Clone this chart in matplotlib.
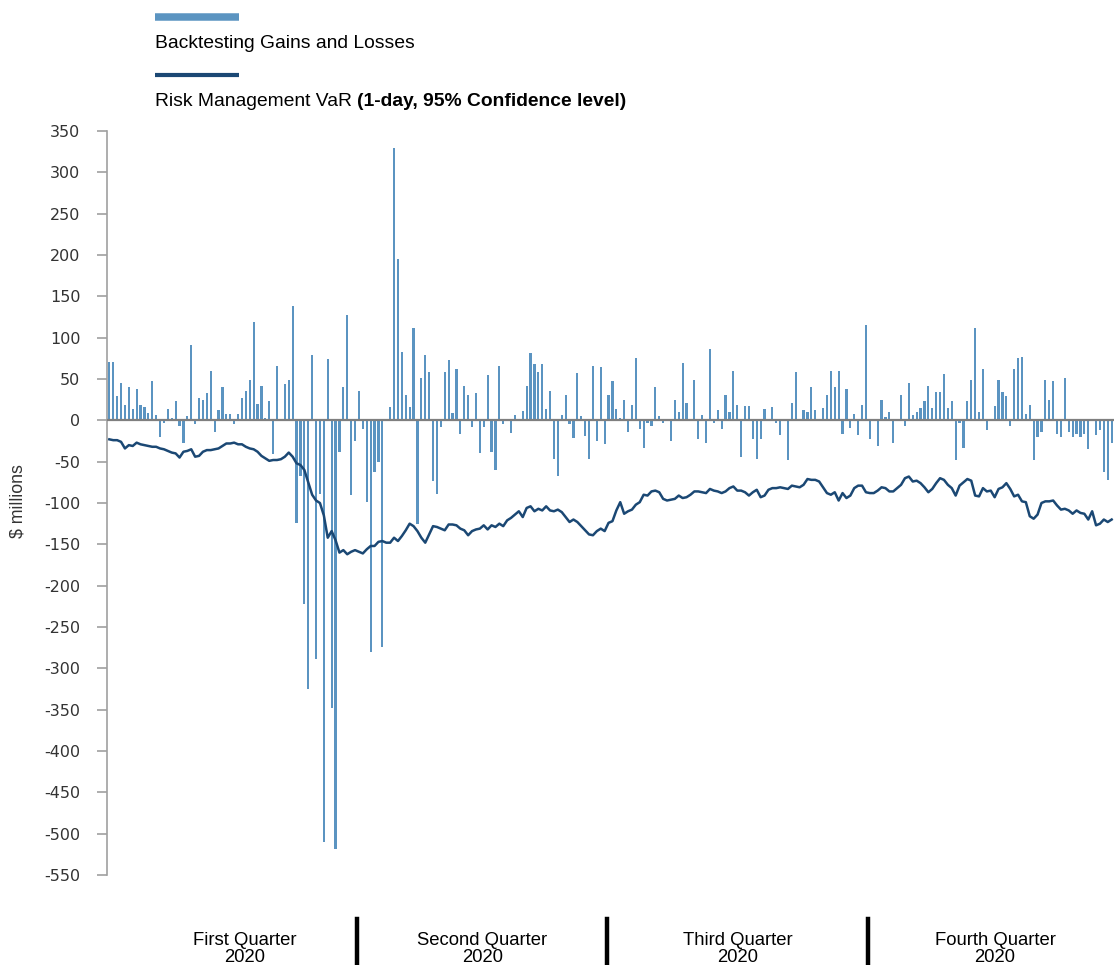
import numpy as np
import matplotlib
matplotlib.use("Agg")
import matplotlib.pyplot as plt
from matplotlib.lines import Line2D

# daily backtesting gains and losses ($ millions), 2020
gains = [
    71, 71, 29, 45, 18, 40, 14, 38, 18, 16, 9, 47, 6, -20, -3, 14, 3, 23, -7, -27,
    5, 91, -5, 27, 25, 33, 60, -14, 12, 40, 8, 8, -5, 8, 27, 36, 49, 119, 20, 42,
    3, 23, -41, 66, 2, 44, 49, 138, -124, -67, -222, -325, 79, -289, -89, -510, 74, -348, -518, -38,
    40, 127, -90, -25, 35, -10, -99, -280, -63, -51, -274, 2, 16, 330, 195, 83, 31, 16, 112, -125,
    51, 79, 59, -73, -89, -8, 58, 73, 9, 62, -17, 42, 31, -8, 33, -40, -8, 55, -38, -60,
    66, -4, 0, -15, 7, 0, 11, 42, 81, 68, 58, 68, 14, 35, -47, -67, 7, 31, -4, -21,
    57, 5, -19, -47, 66, -25, 64, -29, 31, 47, 14, 3, 25, -14, 19, 75, -10, -33, -3, -7,
    40, 5, -3, 0, -25, 25, 10, 69, 21, 0, 49, -23, 7, -27, 86, -3, 12, -10, 31, 10,
    60, 19, -44, 17, 17, -23, -47, -23, 14, 0, 16, -3, -18, 0, -48, 21, 58, 0, 12, 10,
    40, 12, 0, 15, 31, 60, 40, 60, -16, 38, -9, 8, -18, 19, 115, -22, 0, -31, 25, 4,
    10, -27, 0, 31, -7, 45, 6, 10, 15, 23, 42, 15, 34, 34, 56, 15, 23, -48, -3, -33,
    23, 49, 112, 10, 62, -12, 0, 17, 49, 34, 29, -7, 62, 75, 77, 8, 19, -48, -20, -14,
    49, 25, 47, -16, -20, 51, -14, -20, -16, -20, -16, -35, 0, -18, -12, -63, -72, -27,
]

# risk management VaR (1-day, 95%), shown as negative
var95 = [
    -23, -24, -24, -26, -34, -30, -31, -27, -29, -30, -31, -32, -32, -34, -35, -37, -39, -40, -45, -38,
    -37, -35, -44, -43, -38, -36, -36, -35, -34, -31, -28, -28, -27, -29, -29, -32, -34, -35, -38, -43,
    -46, -49, -48, -48, -47, -44, -39, -44, -52, -54, -60, -75, -90, -97, -100, -115, -142, -134, -145, -160,
    -157, -162, -159, -157, -159, -161, -156, -152, -152, -147, -146, -148, -148, -142, -146, -140, -133, -125, -128, -134,
    -142, -148, -138, -128, -129, -131, -133, -126, -126, -127, -131, -133, -139, -134, -132, -131, -127, -132, -127, -129,
    -125, -128, -121, -118, -114, -110, -117, -106, -104, -110, -107, -109, -104, -109, -110, -108, -111, -117, -123, -120,
    -123, -128, -133, -138, -139, -134, -131, -134, -124, -122, -109, -99, -113, -110, -108, -102, -99, -90, -91, -86,
    -85, -87, -95, -97, -96, -95, -91, -94, -93, -90, -86, -86, -87, -88, -83, -85, -86, -88, -86, -82,
    -80, -85, -85, -87, -91, -87, -84, -93, -91, -84, -82, -82, -81, -82, -83, -79, -80, -81, -78, -71,
    -72, -72, -74, -81, -88, -90, -87, -97, -88, -94, -91, -82, -79, -79, -87, -88, -88, -85, -81, -82,
    -86, -86, -82, -78, -70, -68, -74, -73, -76, -81, -87, -83, -76, -70, -72, -78, -82, -91, -79, -75,
    -71, -73, -91, -92, -82, -86, -85, -93, -83, -81, -76, -83, -92, -90, -98, -99, -116, -119, -114, -100,
    -98, -98, -97, -103, -108, -107, -109, -113, -109, -112, -113, -120, -110, -127, -125, -120, -123, -120,
]

quarter_labels = ["First Quarter\n2020", "Second Quarter\n2020", "Third Quarter\n2020", "Fourth Quarter\n2020"]
quarter_days = [64, 64, 67, 63]
yticks = list(range(350, -551, -50))

bar_color = "#5b94c1"
line_color = "#1b4874"

fig = plt.figure(figsize=(11.14, 9.65), dpi=100)
ax = fig.add_axes([107 / 1114, 90 / 965, 1007 / 1114, 744 / 965])

x = np.arange(len(gains))
ax.bar(x, gains, width=0.55, color=bar_color, zorder=2)
ax.axhline(0, color="#7f7f7f", lw=1.6, zorder=3)
ax.plot(np.arange(len(var95)), var95, color=line_color, lw=1.8, zorder=4)

ax.set_xlim(-0.6, len(gains) - 0.4)
ax.set_ylim(-550, 350)
ax.set_yticks(yticks)
ax.set_yticklabels([str(t) for t in yticks], fontsize=11.5, color="#333333", family="DejaVu Sans")
ax.set_xticks([])
for s in ["top", "right", "bottom"]:
    ax.spines[s].set_visible(False)
ax.spines["left"].set_color("#a0a0a0")
ax.spines["left"].set_linewidth(1.2)
ax.tick_params(axis="y", direction="out", length=7.2, color="#a0a0a0", width=1.2, pad=12)

fig.text(18 / 1114, 1 - 501 / 965, "$ millions", rotation=90, ha="center", va="center",
         fontsize=12.8, family="Liberation Sans", color="#333333")

# quarter dividers and labels
bounds = np.cumsum(quarter_days)[:-1] - 0.5
trans = ax.get_xaxis_transform()
for b in bounds:
    ax.plot([b, b], [-0.059, -0.119], color="black", lw=3.2, transform=trans, clip_on=False)
label_x = [34.8, 95.6, 161.2, 227.1]
for lx, lab in zip(label_x, quarter_labels):
    ax.text(lx, -0.100, lab, transform=trans, ha="center", va="center", fontsize=13.3,
            family="Liberation Sans", linespacing=1.0, color="black")

# legend at top
fig.add_artist(Line2D([155 / 1114, 239 / 1114], [1 - 17 / 965] * 2, transform=fig.transFigure,
                      color=bar_color, lw=5.4, solid_capstyle="butt"))
fig.text(155 / 1114, 1 - 43 / 965, "Backtesting Gains and Losses", ha="left", va="center",
         fontsize=13.9, family="Liberation Sans", color="black")
fig.add_artist(Line2D([155 / 1114, 239 / 1114], [1 - 75 / 965] * 2, transform=fig.transFigure,
                      color=line_color, lw=3, solid_capstyle="butt"))
t1 = fig.text(155 / 1114, 1 - 102 / 965, "Risk Management VaR ", ha="left", va="center",
              fontsize=13.9, family="Liberation Sans", color="black")
ax.annotate("(1-day, 95% Confidence level)", xy=(1, 0), xycoords=t1, ha="left", va="bottom",
            fontsize=13.9, family="Liberation Sans", fontweight="bold", color="black",
            annotation_clip=False)

fig.savefig("out.png", dpi=100)
